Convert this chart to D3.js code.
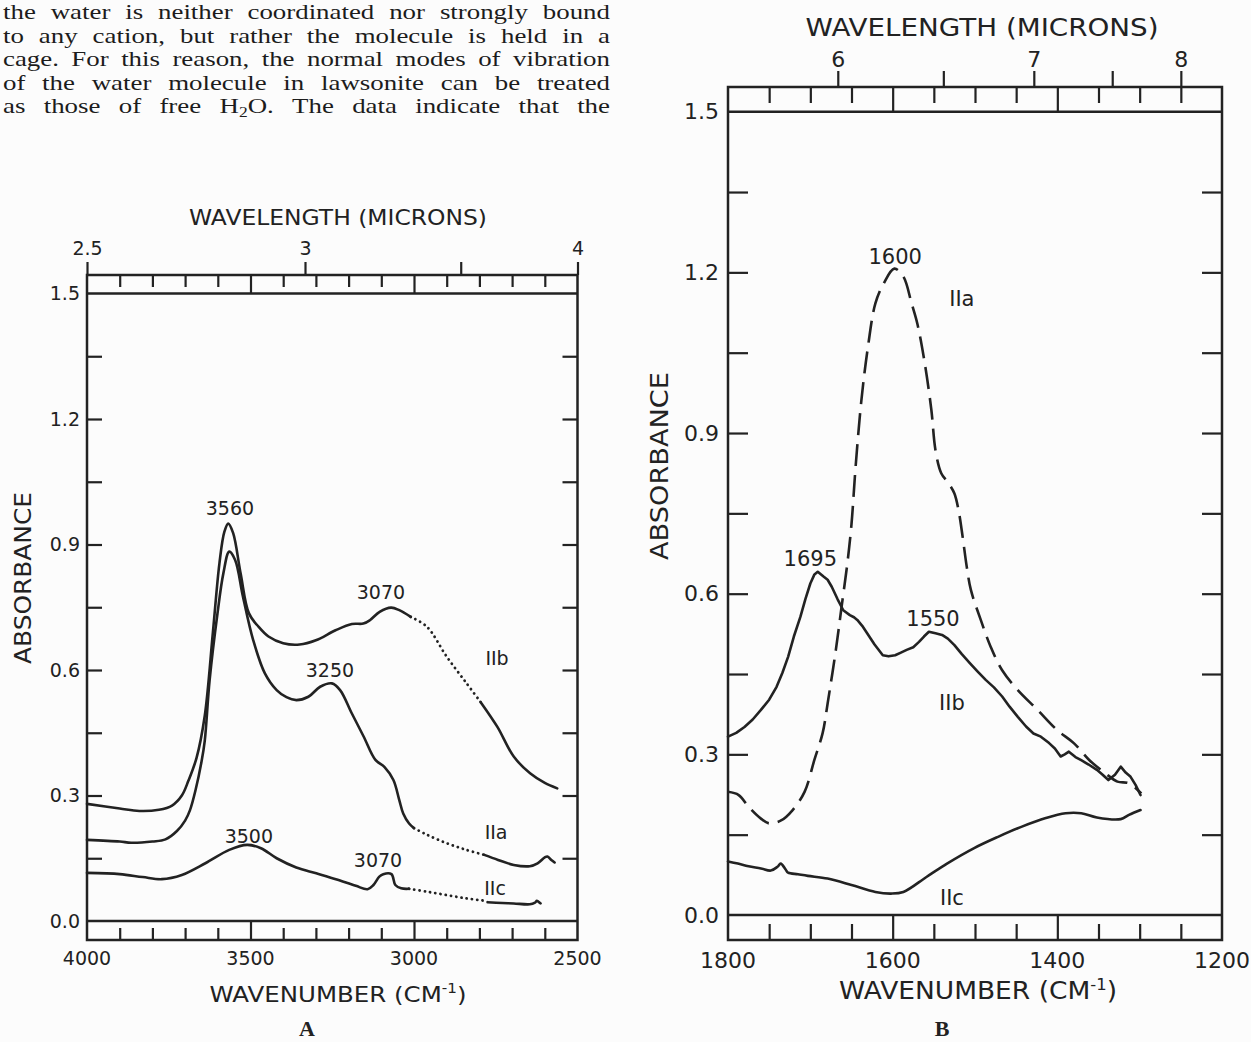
<!DOCTYPE html>
<html>
<head>
<meta charset="utf-8">
<script src="https://cdn.jsdelivr.net/npm/d3@7"></script>
<style>
  body { margin: 0; background: #fcfcfc; }
  #page { position: relative; width: 1251px; height: 1042px; overflow: hidden; }
</style>
</head>
<body>
<div id="page"></div>
<script>
// ---- text block above panel A ----
var paraLines = [
  "the water is neither coordinated nor strongly bound",
  "to any cation, but rather the molecule is held in a",
  "cage. For this reason, the normal modes of vibration",
  "of the water molecule in lawsonite can be treated",
  "as those of free H{2}O. The data indicate that the"
];

// ---- axis values ----
var absTicks = [0.15, 0.3, 0.45, 0.6, 0.75, 0.9, 1.05, 1.2, 1.35];
var absLabels = [0, 0.3, 0.6, 0.9, 1.2, 1.5];

var aWnLabels = [4000, 3500, 3000, 2500];
var aWnMajor = [3500, 3000];
var aMicronTicks = [2.5, 3, 3.5, 4];
var aMicronLabels = ["2.5", "3", "", "4"];

var bWnLabels = [1800, 1600, 1400, 1200];
var bWnMajor = [1600, 1400];
var bMicronTicks = [6, 6.5, 7, 7.5, 8];
var bMicronLabels = ["6", "", "7", "", "8"];

// ---- panel A spectra [wavenumber, absorbance] ----
var aIIbLeft = [[4000,0.280],[3900,0.269],[3840,0.263],[3780,0.266],[3740,0.276],[3710,0.300],[3690,0.335],
  [3665,0.390],[3640,0.490],[3615,0.690],[3595,0.855],[3580,0.930],[3568,0.950],[3553,0.927],[3530,0.830],
  [3505,0.736],[3475,0.703],[3445,0.680],[3400,0.664],[3350,0.661],[3300,0.671],[3240,0.695],[3190,0.710],
  [3155,0.711],[3135,0.719],[3105,0.739],[3070,0.749],[3045,0.743],[3010,0.727]];
var aIIbGap = [[3010,0.727],[2960,0.703],[2900,0.632],[2840,0.569],[2795,0.522]];
var aIIbRight = [[2795,0.522],[2745,0.464],[2695,0.393],[2645,0.353],[2600,0.330],[2562,0.317]];

var aIIaLeft = [[4000,0.194],[3900,0.190],[3865,0.187],[3800,0.190],[3760,0.195],[3725,0.215],[3700,0.240],
  [3685,0.265],[3668,0.313],[3650,0.380],[3640,0.430],[3625,0.576],[3601,0.735],[3583,0.831],[3565,0.883],
  [3547,0.863],[3523,0.775],[3492,0.672],[3456,0.592],[3420,0.552],[3390,0.535],[3360,0.528],[3323,0.536],
  [3287,0.560],[3251,0.568],[3226,0.552],[3190,0.496],[3154,0.441],[3118,0.385],[3090,0.368],[3063,0.337],
  [3045,0.289],[3033,0.257],[3015,0.233],[3000,0.222]];
var aIIaGap = [[3000,0.222],[2960,0.206],[2900,0.186],[2840,0.170],[2785,0.158]];
var aIIaRight = [[2785,0.158],[2743,0.146],[2695,0.134],[2646,0.131],[2622,0.138],[2600,0.152],[2592,0.154],
  [2580,0.146],[2570,0.140]];

var aIIcLeft = [[4000,0.115],[3900,0.112],[3830,0.105],[3771,0.100],[3710,0.110],[3638,0.138],[3565,0.170],
  [3510,0.182],[3468,0.174],[3420,0.150],[3360,0.128],[3299,0.114],[3239,0.100],[3178,0.084],[3142,0.076],
  [3124,0.086],[3106,0.106],[3094,0.112],[3069,0.112],[3057,0.086],[3039,0.078],[3015,0.077]];
var aIIcGap = [[3015,0.077],[2960,0.070],[2900,0.062],[2840,0.054],[2790,0.049]];
var aIIcRight = [[2775,0.045],[2730,0.043],[2695,0.042],[2646,0.040],[2630,0.044],[2624,0.048],[2613,0.042]];

var aNotes = [["3560",3563,0.987],["3070",3101,0.786],["IIb",2746,0.629],["3250",3257,0.600],
  ["3500",3505,0.203],["IIa",2749,0.213],["3070",3110,0.146],["IIc",2752,0.079]];

// ---- panel B spectra ----
var bIIa = [[1800,0.230],[1787,0.224],[1775,0.202],[1760,0.180],[1750,0.171],[1735,0.177],[1722,0.195],
  [1707,0.230],[1695,0.290],[1685,0.340],[1679,0.395],[1669,0.495],[1662,0.576],[1655,0.657],[1650,0.730],
  [1645,0.837],[1638,0.961],[1630,1.061],[1621,1.142],[1611,1.179],[1598,1.207],[1587,1.192],[1577,1.142],
  [1570,1.104],[1561,1.030],[1553,0.943],[1548,0.868],[1541,0.825],[1532,0.806],[1525,0.787],[1520,0.756],
  [1515,0.706],[1510,0.650],[1505,0.607],[1493,0.551],[1481,0.501],[1467,0.457],[1448,0.420],[1424,0.383],
  [1400,0.345],[1380,0.321],[1361,0.289],[1342,0.265],[1327,0.249],[1313,0.246],[1298,0.227]];

var bIIb = [[1800,0.333],[1790,0.340],[1780,0.351],[1770,0.365],[1760,0.383],[1750,0.402],[1741,0.426],
  [1734,0.452],[1727,0.482],[1720,0.520],[1712,0.557],[1706,0.590],[1700,0.619],[1695,0.636],[1691,0.641],
  [1684,0.632],[1679,0.626],[1674,0.613],[1667,0.590],[1660,0.569],[1652,0.560],[1647,0.556],[1643,0.551],
  [1637,0.540],[1631,0.526],[1622,0.505],[1612,0.485],[1605,0.483],[1597,0.485],[1590,0.490],[1583,0.495],
  [1575,0.500],[1568,0.510],[1562,0.520],[1556,0.529],[1548,0.526],[1540,0.523],[1533,0.516],[1525,0.504],
  [1516,0.487],[1506,0.470],[1497,0.455],[1487,0.439],[1477,0.425],[1467,0.408],[1458,0.389],[1448,0.370],
  [1438,0.352],[1429,0.339],[1420,0.333],[1410,0.321],[1403,0.311],[1396,0.296],[1391,0.300],[1386,0.305],
  [1378,0.295],[1371,0.289],[1362,0.281],[1352,0.271],[1345,0.262],[1338,0.252],[1330,0.262],[1323,0.277],
  [1317,0.266],[1311,0.258],[1305,0.243],[1299,0.224]];

var bIIc = [[1800,0.100],[1788,0.096],[1775,0.091],[1760,0.087],[1748,0.083],[1740,0.090],[1736,0.096],
  [1730,0.085],[1727,0.079],[1715,0.076],[1703,0.073],[1679,0.068],[1650,0.056],[1621,0.043],[1602,0.040],
  [1587,0.043],[1559,0.071],[1534,0.096],[1501,0.125],[1472,0.146],[1443,0.165],[1414,0.181],[1390,0.190],
  [1371,0.190],[1352,0.182],[1323,0.179],[1313,0.187],[1299,0.196]];

var bNotes = [["1600",1597,1.230],["IIa",1516,1.152],["1695",1700,0.666],["1550",1551,0.554],
  ["IIb",1528,0.396],["IIc",1528,0.032]];

var ink = "#222";
var chartFont = "'DejaVu Sans', 'Liberation Sans', sans-serif";

var svg = d3.select("#page").append("svg")
  .attr("width", 1251)
  .attr("height", 1042);

svg.append("rect").attr("width", 1251).attr("height", 1042).attr("fill", "#fcfcfc");

drawParagraph();

drawPanel({
  wnDomain: [4000, 2500], left: 87, right: 577.5, zeroY: 921, topY: 293.5,
  bandTop: 275, bandBottom: 940, minorLen: 12, yTickLen: 15, umTickLen: 13,
  tickFont: 19, noteFont: 19, titleFont: 22,
  wnLabels: aWnLabels, wnMajor: aWnMajor, minorCount: 15,
  umTicks: aMicronTicks, umLabels: aMicronLabels, umPad: 7,
  yLabelPad: 7, wnLabelBase: 965,
  topTitle: { x: 338, y: 225, len: 298 },
  bottomTitle: { x: 338, y: 1002, len: 257 },
  yTitle: { x: 23, y: 578, len: 172, size: 23 },
  caption: { text: "A", x: 307, y: 1036 },
  solid: [aIIbLeft, aIIbRight, aIIaLeft, aIIaRight, aIIcLeft, aIIcRight],
  dotted: [aIIbGap, aIIaGap, aIIcGap],
  dashed: [],
  noisy: [],
  notes: aNotes
});

drawPanel({
  wnDomain: [1800, 1200], left: 728, right: 1222, zeroY: 915, topY: 111.7,
  bandTop: 87, bandBottom: 940, minorLen: 16, yTickLen: 20, umTickLen: 16,
  tickFont: 22, noteFont: 21, titleFont: 25,
  wnLabels: bWnLabels, wnMajor: bWnMajor, minorCount: 12,
  umTicks: bMicronTicks, umLabels: bMicronLabels, umPad: 4,
  yLabelPad: 9, wnLabelBase: 968,
  topTitle: { x: 982, y: 36, len: 353 },
  bottomTitle: { x: 978, y: 999, len: 278 },
  yTitle: { x: 659, y: 466, len: 188, size: 25 },
  caption: { text: "B", x: 942, y: 1036 },
  solid: [bIIc],
  dotted: [],
  dashed: [bIIa],
  noisy: [bIIb],
  notes: bNotes
});

function drawParagraph() {
  // the scanned type is wider than Liberation Serif, so stretch it a little
  var sx = 1.25;
  var left = 3 / sx, right = 610 / sx;
  var para = svg.append("g")
    .attr("transform", "scale(" + sx + ",1)")
    .attr("font-family", "'Liberation Serif', 'Times New Roman', serif")
    .attr("font-size", 21.5)
    .attr("fill", "#1c1c1c");

  paraLines.forEach(function (line, i) {
    var y = 19.5 + i * 23.5;
    var words = line.split(" ");
    var nodes = words.map(function (w) {
      var t = para.append("text").attr("y", y);
      var m = w.match(/^(.*)\{(.*)\}(.*)$/);
      if (m) {
        t.append("tspan").text(m[1]);
        t.append("tspan").attr("font-size", 14).attr("dy", 4).text(m[2]);
        t.append("tspan").attr("dy", -4).text(m[3]);
      } else {
        t.text(w);
      }
      return t;
    });
    var widths = nodes.map(function (t) { return t.node().getComputedTextLength(); });
    var gap = (right - left - d3.sum(widths)) / (words.length - 1);
    var x = left;
    nodes.forEach(function (t, j) {
      t.attr("x", x);
      x += widths[j] + gap;
    });
  });
}

function styleAxis(sel) {
  sel.select(".domain").remove();
  sel.selectAll(".tick line").attr("stroke", ink).attr("stroke-width", 2.2);
  sel.selectAll("text").attr("fill", ink).attr("font-family", chartFont);
}

function drawPanel(p) {
  var g = svg.append("g");
  var x = d3.scaleLinear().domain(p.wnDomain).range([p.left, p.right]);
  var y = d3.scaleLinear().domain([0, 1.5]).range([p.zeroY, p.topY]);

  var minor = x.ticks(p.minorCount).filter(function (v) {
    return p.wnLabels.indexOf(v) < 0;
  });

  // bottom band ticks
  g.append("g").attr("transform", "translate(0," + p.bandBottom + ")")
    .call(d3.axisTop(x).tickValues(minor).tickSize(p.minorLen).tickFormat(""))
    .call(styleAxis);
  g.append("g").attr("transform", "translate(0," + p.bandBottom + ")")
    .call(d3.axisTop(x).tickValues(p.wnMajor).tickSize(p.bandBottom - p.zeroY).tickFormat(""))
    .call(styleAxis);

  // top band ticks
  g.append("g").attr("transform", "translate(0," + p.bandTop + ")")
    .call(d3.axisBottom(x).tickValues(minor).tickSize(p.minorLen).tickFormat(""))
    .call(styleAxis);
  g.append("g").attr("transform", "translate(0," + p.bandTop + ")")
    .call(d3.axisBottom(x).tickValues(p.wnMajor).tickSize(p.topY - p.bandTop).tickFormat(""))
    .call(styleAxis);

  // wavelength ticks above the frame
  g.append("g").attr("transform", "translate(0," + p.bandTop + ")")
    .call(d3.axisTop(x)
      .tickValues(p.umTicks.map(function (u) { return 1e4 / u; }))
      .tickSize(p.umTickLen).tickPadding(p.umPad)
      .tickFormat(function (d, i) { return p.umLabels[i]; }))
    .call(styleAxis)
    .call(function (s) { s.selectAll("text").attr("font-size", p.tickFont); });

  // absorbance ticks, both sides, pointing inward
  g.append("g").attr("transform", "translate(" + p.left + ",0)")
    .call(d3.axisRight(y).tickValues(absTicks).tickSize(p.yTickLen).tickFormat(""))
    .call(styleAxis);
  g.append("g").attr("transform", "translate(" + p.right + ",0)")
    .call(d3.axisLeft(y).tickValues(absTicks).tickSize(p.yTickLen).tickFormat(""))
    .call(styleAxis);
  g.append("g").attr("transform", "translate(" + p.left + ",0)")
    .call(d3.axisLeft(y).tickValues(absLabels).tickSize(0).tickPadding(p.yLabelPad)
      .tickFormat(d3.format(".1f")))
    .call(styleAxis)
    .call(function (s) { s.selectAll("text").attr("font-size", p.tickFont); });

  // frame
  var frame = g.append("g").attr("stroke", ink).attr("stroke-width", 2.5).attr("fill", "none");
  frame.append("rect")
    .attr("x", p.left).attr("y", p.bandTop)
    .attr("width", p.right - p.left).attr("height", p.bandBottom - p.bandTop);
  frame.append("line").attr("x1", p.left).attr("x2", p.right).attr("y1", y(1.5)).attr("y2", y(1.5));
  frame.append("line").attr("x1", p.left).attr("x2", p.right).attr("y1", y(0)).attr("y2", y(0));

  // wavenumber labels
  g.selectAll(".wnlab").data(p.wnLabels).join("text")
    .attr("x", function (d) { return x(d); })
    .attr("y", p.wnLabelBase)
    .attr("text-anchor", "middle")
    .attr("font-family", chartFont)
    .attr("font-size", p.tickFont)
    .attr("fill", ink)
    .text(function (d) { return d; });

  // titles
  g.append("text")
    .attr("x", p.topTitle.x).attr("y", p.topTitle.y)
    .attr("text-anchor", "middle")
    .attr("font-family", chartFont).attr("font-size", p.titleFont).attr("fill", ink)
    .attr("textLength", p.topTitle.len).attr("lengthAdjust", "spacingAndGlyphs")
    .text("WAVELENGTH (MICRONS)");

  var bt = g.append("text")
    .attr("x", p.bottomTitle.x).attr("y", p.bottomTitle.y)
    .attr("text-anchor", "middle")
    .attr("font-family", chartFont).attr("font-size", p.titleFont).attr("fill", ink)
    .attr("textLength", p.bottomTitle.len).attr("lengthAdjust", "spacingAndGlyphs");
  bt.append("tspan").text("WAVENUMBER (CM");
  bt.append("tspan").attr("dy", -9).attr("font-size", p.titleFont * 0.62).text("-1");
  bt.append("tspan").attr("dy", 9).text(")");

  g.append("text")
    .attr("transform", "translate(" + p.yTitle.x + "," + p.yTitle.y + ") rotate(-90)")
    .attr("text-anchor", "middle").attr("dy", "0.36em")
    .attr("font-family", chartFont).attr("font-size", p.yTitle.size).attr("fill", ink)
    .attr("textLength", p.yTitle.len).attr("lengthAdjust", "spacingAndGlyphs")
    .text("ABSORBANCE");

  g.append("text")
    .attr("x", p.caption.x).attr("y", p.caption.y)
    .attr("text-anchor", "middle")
    .attr("font-family", "'Liberation Serif', serif").attr("font-weight", "bold")
    .attr("font-size", 22).attr("fill", ink)
    .text(p.caption.text);

  // spectra
  var smooth = d3.line()
    .x(function (d) { return x(d[0]); })
    .y(function (d) { return y(d[1]); })
    .curve(d3.curveCatmullRom.alpha(0.5));
  var rough = d3.line()
    .x(function (d) { return x(d[0]); })
    .y(function (d) { return y(d[1]); });

  var curves = g.append("g").attr("fill", "none").attr("stroke", ink)
    .attr("stroke-linejoin", "round").attr("stroke-linecap", "round");

  curves.selectAll(".solid").data(p.solid).join("path")
    .attr("d", smooth).attr("stroke-width", 2.6);
  curves.selectAll(".noisy").data(p.noisy).join("path")
    .attr("d", rough).attr("stroke-width", 2.6);
  curves.selectAll(".dotted").data(p.dotted).join("path")
    .attr("d", smooth).attr("stroke-width", 2.8)
    .attr("stroke-dasharray", "0.1,5.2");
  curves.selectAll(".dashed").data(p.dashed).join("path")
    .attr("d", smooth).attr("stroke-width", 2.6).attr("stroke-linecap", "butt")
    .attr("stroke-dasharray", "22,9");

  // peak annotations
  g.selectAll(".note").data(p.notes).join("text")
    .attr("x", function (d) { return x(d[1]); })
    .attr("y", function (d) { return y(d[2]); })
    .attr("dy", "0.36em")
    .attr("text-anchor", "middle")
    .attr("font-family", chartFont)
    .attr("font-size", p.noteFont)
    .attr("fill", ink)
    .text(function (d) { return d[0]; });
}
</script>
</body>
</html>
